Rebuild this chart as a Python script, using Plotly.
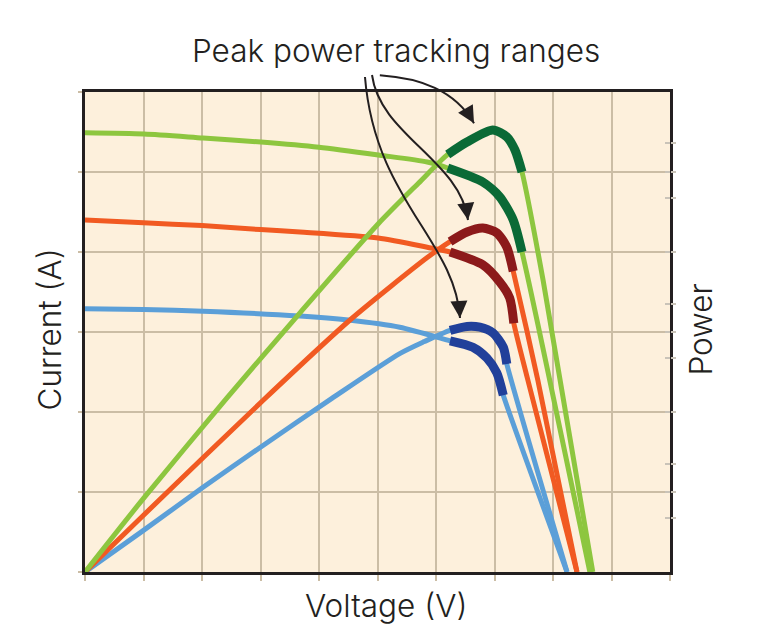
import plotly.graph_objects as go

# ---------------- data (voltage in grid units 0-10, current/power in grid units 0-6) -------------
# Green (highest irradiance)
green_iv_v = [0, 1.01, 2.02, 3.01, 4.0, 5.04, 5.85, 6.2, 6.8, 7.09, 7.32, 7.47, 8.63]
green_iv_i = [5.49, 5.475, 5.425, 5.375, 5.31, 5.21, 5.125, 5.05, 4.875, 4.69, 4.40, 4.0, 0]
green_pv_v = [0, 1.0, 2.42, 3.675, 5.01, 5.7, 6.2, 6.53, 6.97, 7.21, 7.35, 7.47, 7.83, 8.68]
green_pv_p = [0, 0.92, 2.17, 3.24, 4.35, 4.86, 5.22, 5.375, 5.525, 5.44, 5.275, 5.0, 3.65, 0]
green_track = (6.2, 7.47)

# Orange (medium irradiance)
orange_iv_v = [0, 1.0, 2.0, 3.0, 3.675, 5.01, 5.85, 6.24, 6.8, 7.09, 7.26, 7.33, 7.57, 8.41]
orange_iv_i = [4.40, 4.365, 4.33, 4.28, 4.25, 4.175, 4.06, 4.0, 3.84, 3.625, 3.425, 3.11, 2.4, 0]
orange_pv_v = [0, 1.0, 3.05, 4.53, 5.85, 6.24, 6.53, 6.8, 7.04, 7.21, 7.32, 7.74, 8.41]
orange_pv_p = [0, 0.71, 2.15, 3.15, 3.93, 4.13, 4.25, 4.3, 4.24, 4.06, 3.76, 2.4, 0]
orange_track = (6.24, 7.33)

# Blue (lowest irradiance)
blue_iv_v = [0, 1.0, 2.02, 3.675, 4.5, 5.38, 6.24, 6.63, 6.87, 7.04, 7.15, 8.24]
blue_iv_i = [3.29, 3.28, 3.26, 3.2, 3.15, 3.06, 2.89, 2.81, 2.675, 2.49, 2.21, 0]
blue_pv_v = [0, 1.0, 2.0, 3.0, 4.22, 5.38, 5.8, 6.24, 6.53, 6.75, 6.97, 7.15, 7.21, 8.24]
blue_pv_p = [0, 0.52, 1.05, 1.56, 2.17, 2.73, 2.88, 3.02, 3.07, 3.06, 2.99, 2.81, 2.6, 0]
blue_track = (6.24, 7.21)

# right-hand (power) axis tick positions
power_ticks = [0.675, 1.0, 1.35, 2.0, 2.675, 3.0, 3.35, 4.0, 4.675, 5.0, 5.36]

# ---------------- style ----------------
LIGHT = {"green": "#8dc63f", "orange": "#f15a22", "blue": "#5b9fd8"}
DARK = {"green": "#0a6a36", "orange": "#8c1a1b", "blue": "#21409a"}
BG = "#fdf0dc"
GRID = "#cbbda5"
INK = "#231f20"
FONT = "Inter"

fig = go.Figure()


def line(v, y, color, width):
    fig.add_trace(go.Scatter(x=v, y=y, mode="lines",
                             line=dict(color=color, width=width, shape="spline", smoothing=0.7),
                             hoverinfo="skip", showlegend=False))


def segment(v, y, rng):
    sv, sy = [], []
    for a, b in zip(v, y):
        if rng[0] - 1e-9 <= a <= rng[1] + 1e-9:
            sv.append(a)
            sy.append(b)
    return sv, sy


curves = [
    ("blue", blue_iv_v, blue_iv_i, blue_pv_v, blue_pv_p, blue_track),
    ("orange", orange_iv_v, orange_iv_i, orange_pv_v, orange_pv_p, orange_track),
    ("green", green_iv_v, green_iv_i, green_pv_v, green_pv_p, green_track),
]

for name, iv_v, iv_i, pv_v, pv_p, trk in curves:
    line(iv_v, iv_i, LIGHT[name], 5)
    line(pv_v, pv_p, LIGHT[name], 5)

for name, iv_v, iv_i, pv_v, pv_p, trk in curves:
    sv, sy = segment(iv_v, iv_i, trk)
    line(sv, sy, DARK[name], 9)
    sv, sy = segment(pv_v, pv_p, trk)
    line(sv, sy, DARK[name], 9)

# dummy traces so the right-hand tick axes exist
fig.add_trace(go.Scatter(x=[None], y=[None], yaxis="y2", showlegend=False, hoverinfo="skip"))
fig.add_trace(go.Scatter(x=[None], y=[None], yaxis="y3", showlegend=False, hoverinfo="skip"))

axis_common = dict(showgrid=True, gridcolor=GRID, gridwidth=2, zeroline=False,
                   showline=True, linecolor=INK, linewidth=2.5, mirror=True,
                   ticks="outside", tickcolor=GRID, tickwidth=2, showticklabels=False,
                   fixedrange=True)

# the page body has an 8px margin, so the figure is sized/offset to land the plot at x 85-670, y 92-572
fig.update_layout(
    width=760, height=625,
    margin=dict(l=77, r=98, t=84, b=61),
    paper_bgcolor="white", plot_bgcolor=BG,
    xaxis=dict(range=[0, 10], tick0=0, dtick=1, ticklen=6, **axis_common),
    yaxis=dict(range=[0, 6], tick0=0, dtick=1, ticklen=4, **axis_common),
    yaxis2=dict(range=[0, 6], overlaying="y", side="right", anchor="x",
                tickmode="array", tickvals=power_ticks, ticks="outside", ticklen=5,
                tickwidth=1.5, tickcolor="#c9c3b8", showgrid=False, zeroline=False,
                showline=False, showticklabels=False),
    yaxis3=dict(range=[0, 6], overlaying="y", side="right", anchor="x",
                tickmode="array", tickvals=power_ticks, ticks="inside", ticklen=5,
                tickwidth=1.5, tickcolor="#c9c3b8", showgrid=False, zeroline=False,
                showline=False, showticklabels=False),
    showlegend=False,
)

# ---------------- text ----------------
txt = dict(family=FONT, size=31.5, color=INK, weight=300)
fig.add_annotation(text="Peak power tracking ranges", xref="paper", yref="paper",
                   x=0.532, y=1.0875, showarrow=False, font=txt, xanchor="center", yanchor="middle")
fig.add_annotation(text="Voltage (V)", xref="paper", yref="paper",
                   x=0.515, y=-0.07, showarrow=False, font=txt, xanchor="center", yanchor="middle")
fig.add_annotation(text="Current (A)", xref="paper", yref="paper",
                   x=-0.06, y=0.505, showarrow=False, font=txt, textangle=-90,
                   xanchor="center", yanchor="middle")
fig.add_annotation(text="Power", xref="paper", yref="paper",
                   x=1.053, y=0.505, showarrow=False, font=txt, textangle=-90,
                   xanchor="center", yanchor="middle")

# ---------------- arrows (cubic bezier in axis units, drawn in paper coords) ----------------
arrows = [
    [(5.04, 6.21), (5.73, 6.175), (6.32, 6.025), (6.65, 5.61)],
    [(4.906, 6.2125), (5.043, 5.4625), (6.41, 5.15), (6.547, 4.4)],
    [(4.786, 6.1875), (4.957, 4.65), (6.325, 4.15), (6.41, 3.175)],
]
for pts in arrows:
    p = [(a / 10.0, b / 6.0) for a, b in pts]
    path = "M {},{} C {},{} {},{} {},{}".format(p[0][0], p[0][1], p[1][0], p[1][1],
                                                  p[2][0], p[2][1], p[3][0], p[3][1])
    fig.add_shape(type="path", path=path, xref="paper", yref="paper",
                  line=dict(color=INK, width=2), layer="above")
    # arrow head aligned with the end tangent (pixel space: 58.5 px/unit x, 80 px/unit y)
    dx = (pts[3][0] - pts[2][0]) * 58.5
    dy = -(pts[3][1] - pts[2][1]) * 80
    n = (dx * dx + dy * dy) ** 0.5
    fig.add_annotation(x=pts[3][0], y=pts[3][1], xref="x", yref="y", text="",
                       showarrow=True, arrowhead=2, arrowsize=1.7, arrowwidth=2,
                       arrowcolor=INK, ax=-dx / n * 14, ay=-dy / n * 14)

fig.write_html("out.html")
